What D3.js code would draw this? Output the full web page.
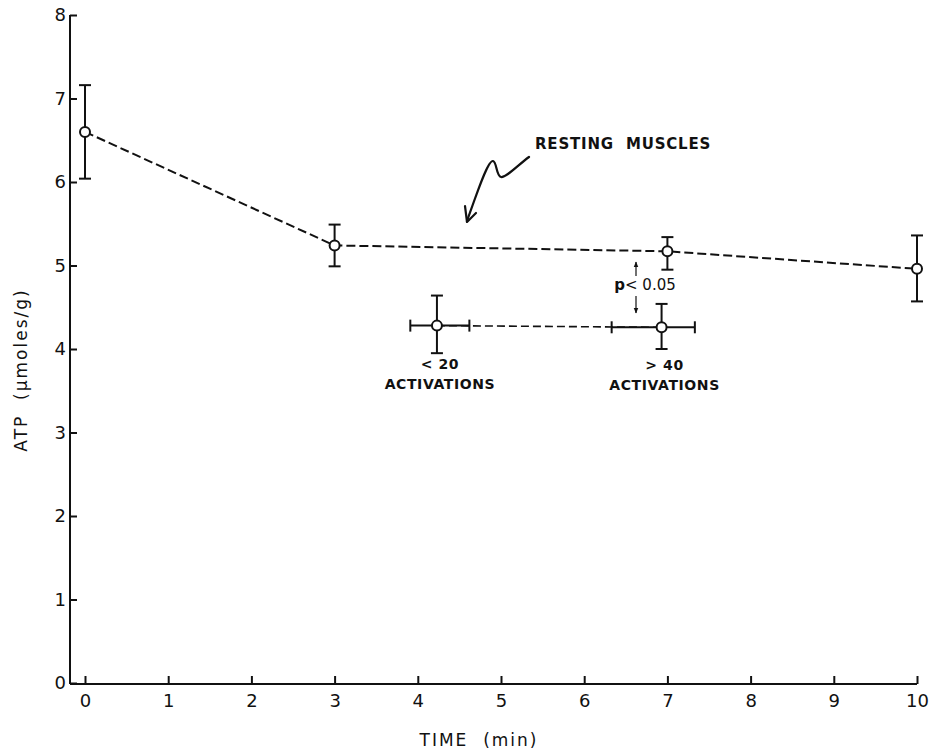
<!DOCTYPE html>
<html>
<head>
<meta charset="utf-8">
<title>ATP vs time</title>
<style>
  body { margin: 0; background: #fff; }
  text { font-family: 'DejaVu Sans', sans-serif; fill: #111; white-space: pre; }
  .axis text { font-size: 18px; }
  .axis path, .axis line { stroke: #111; stroke-width: 2; }
  .note { font-weight: bold; font-size: 14px; letter-spacing: 0.6px; }
</style>
<script src="https://d3js.org/d3.v7.min.js"></script>
</head>
<body>
<div id="chart"></div>
<script>
// ---- data ----
const xTicks = [0, 1, 2, 3, 4, 5, 6, 7, 8, 9, 10];
const yTicks = [0, 1, 2, 3, 4, 5, 6, 7, 8];

// resting muscles
const restTime = [0, 3, 7, 10];
const restAtp  = [6.6, 5.24, 5.17, 4.96];
const restHi   = [7.16, 5.49, 5.34, 5.36];
const restLo   = [6.04, 4.99, 4.95, 4.57];

// activated muscles
const actTime   = [4.23, 6.93];
const actTimeLo = [3.91, 6.33];
const actTimeHi = [4.62, 7.33];
const actAtp    = [4.28, 4.26];
const actHi     = [4.64, 4.54];
const actLo     = [3.95, 4.0];
const actLabels = [["< 20", "ACTIVATIONS"], ["> 40", "ACTIVATIONS"]];

const width = 931, height = 751;
const axisLeftX = 70, axisBottomY = 684;

const svg = d3.select("#chart").append("svg")
  .attr("width", width)
  .attr("height", height);

const x = d3.scaleLinear().domain([0, 10]).range([85, 917]);
const y = d3.scaleLinear().domain([0, 8]).range([683, 15]);

// y axis
svg.append("g")
  .attr("class", "axis")
  .attr("transform", `translate(${axisLeftX},0)`)
  .call(d3.axisLeft(y).tickValues(yTicks).tickFormat(d3.format("d"))
    .tickSizeInner(-7).tickSizeOuter(0).tickPadding(4))
  .select(".domain").attr("d", `M0,${axisBottomY}V${y(8)}`);

// x axis
const gx = svg.append("g")
  .attr("class", "axis")
  .attr("transform", `translate(0,${axisBottomY})`)
  .call(d3.axisBottom(x).tickValues(xTicks).tickFormat(d3.format("d"))
    .tickSizeInner(-8).tickSizeOuter(0).tickPadding(10));
gx.select(".domain").attr("d", `M${axisLeftX},0H${x(10)}`);

// axis titles
svg.append("text")
  .attr("x", 479).attr("y", 746)
  .attr("text-anchor", "middle")
  .style("font-size", "17px").style("letter-spacing", "2px")
  .text("TIME  (min)");

svg.append("text")
  .attr("transform", "translate(27,370) rotate(-90)")
  .attr("text-anchor", "middle")
  .style("font-size", "17px").style("letter-spacing", "2px")
  .text("ATP  (\u03BCmoles/g)");

const line = d3.line().x(d => x(d[0])).y(d => y(d[1]));

// resting line
svg.append("path")
  .datum(restTime.map((t, i) => [t, restAtp[i]]))
  .attr("d", line)
  .attr("fill", "none").attr("stroke", "#111")
  .attr("stroke-width", 2).attr("stroke-dasharray", "9,4");

// activation line
svg.append("path")
  .datum(actTime.map((t, i) => [t, actAtp[i]]))
  .attr("d", line)
  .attr("fill", "none").attr("stroke", "#111")
  .attr("stroke-width", 1.6).attr("stroke-dasharray", "8,4");

const cap = 6;
function vbar(g, t, lo, hi) {
  g.append("line").attr("x1", x(t)).attr("x2", x(t)).attr("y1", y(lo)).attr("y2", y(hi));
  g.append("line").attr("x1", x(t) - cap).attr("x2", x(t) + cap).attr("y1", y(lo)).attr("y2", y(lo));
  g.append("line").attr("x1", x(t) - cap).attr("x2", x(t) + cap).attr("y1", y(hi)).attr("y2", y(hi));
}
function hbar(g, v, lo, hi) {
  g.append("line").attr("x1", x(lo)).attr("x2", x(hi)).attr("y1", y(v)).attr("y2", y(v));
  g.append("line").attr("x1", x(lo)).attr("x2", x(lo)).attr("y1", y(v) - cap).attr("y2", y(v) + cap);
  g.append("line").attr("x1", x(hi)).attr("x2", x(hi)).attr("y1", y(v) - cap).attr("y2", y(v) + cap);
}

const bars = svg.append("g").attr("stroke", "#111").attr("stroke-width", 2);
restTime.forEach((t, i) => vbar(bars, t, restLo[i], restHi[i]));
actTime.forEach((t, i) => {
  vbar(bars, t, actLo[i], actHi[i]);
  hbar(bars, actAtp[i], actTimeLo[i], actTimeHi[i]);
});

// markers
svg.append("g").selectAll("circle")
  .data(restTime.map((t, i) => [t, restAtp[i]]).concat(actTime.map((t, i) => [t, actAtp[i]])))
  .join("circle")
  .attr("cx", d => x(d[0])).attr("cy", d => y(d[1]))
  .attr("r", 5)
  .attr("fill", "#fff").attr("stroke", "#111").attr("stroke-width", 2);

// activation labels
actTime.forEach((t, i) => {
  const tx = svg.append("text").attr("class", "note").attr("text-anchor", "middle");
  tx.append("tspan").attr("x", x(t) + 3).attr("y", y(actAtp[i]) + 43).text(actLabels[i][0]);
  tx.append("tspan").attr("x", x(t) + 3).attr("y", y(actAtp[i]) + 63).text(actLabels[i][1]);
});

// p < 0.05 annotation
const px = 636;
svg.append("text")
  .attr("x", 645).attr("y", 290)
  .attr("text-anchor", "middle")
  .style("font-size", "15px")
  .html("<tspan font-weight='bold'>p</tspan>&lt; 0.05");

svg.append("defs").append("marker")
  .attr("id", "head").attr("viewBox", "0 0 10 10")
  .attr("refX", 9).attr("refY", 5)
  .attr("markerWidth", 5).attr("markerHeight", 5)
  .attr("orient", "auto-start-reverse")
  .append("path").attr("d", "M0,1L10,5L0,9Z").attr("fill", "#111");

svg.append("line")
  .attr("x1", px).attr("x2", px).attr("y1", 276).attr("y2", 262)
  .attr("stroke", "#111").attr("stroke-width", 1.2).attr("marker-end", "url(#head)");
svg.append("line")
  .attr("x1", px).attr("x2", px).attr("y1", 296).attr("y2", 313)
  .attr("stroke", "#111").attr("stroke-width", 1.2).attr("marker-end", "url(#head)");

// resting muscles label with squiggle arrow
svg.append("text")
  .attr("class", "note")
  .attr("x", 535).attr("y", 149)
  .style("font-size", "15px").style("letter-spacing", "0.8px")
  .text("RESTING  MUSCLES");

svg.append("path")
  .attr("d", "M529,157 C518,165 506,178 501,177 C496,176 497,162 493,161 C488,160 478,190 467,221")
  .attr("fill", "none").attr("stroke", "#111").attr("stroke-width", 2.2)
  .attr("stroke-linecap", "round");
svg.append("path")
  .attr("d", "M465,206 L467,222 L476,213")
  .attr("fill", "none").attr("stroke", "#111").attr("stroke-width", 2.2)
  .attr("stroke-linecap", "round").attr("stroke-linejoin", "round");
</script>
</body>
</html>
